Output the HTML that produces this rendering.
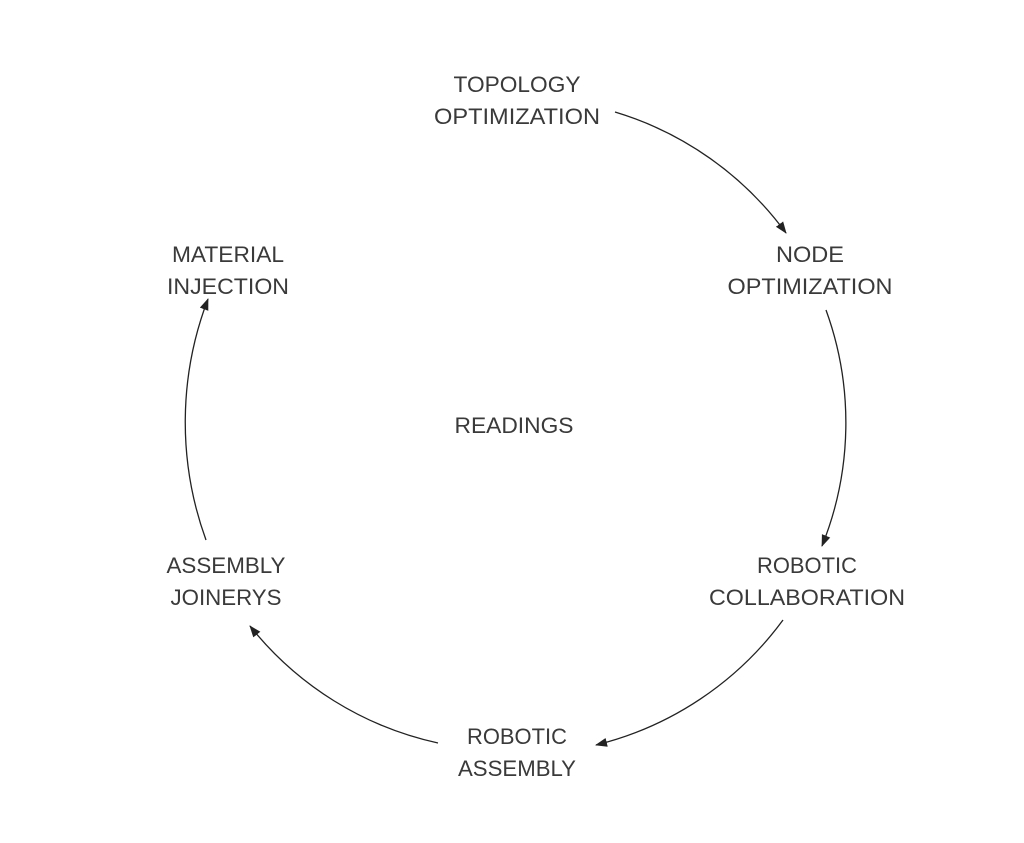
<!DOCTYPE html>
<html><head><meta charset="utf-8"><style>
html,body{margin:0;padding:0;background:#fff;}
svg{display:block;}
text{font-family:"Liberation Sans",sans-serif;font-size:22px;fill:#3a3a3a;text-anchor:middle;}
</style></head><body>
<svg width="1024" height="843" viewBox="0 0 1024 843">
<defs>
<marker id="a" markerWidth="12" markerHeight="10" refX="11" refY="5" orient="auto" markerUnits="userSpaceOnUse">
<path d="M0,0.5 L12,5 L0,9.5 Z" fill="#222"/>
</marker>
</defs>
<g fill="none" stroke="#222" stroke-width="1.3" marker-end="url(#a)">
<path d="M615,112 A330,330 0 0 1 786,233"/>
<path d="M826,310 A330,330 0 0 1 822,546"/>
<path d="M783,620 A330,330 0 0 1 596,745"/>
<path d="M438,743 A330,330 0 0 1 250,626"/>
<path d="M206,540 A345,345 0 0 1 208,299"/>
</g>
<text x="517" y="92" textLength="127" lengthAdjust="spacingAndGlyphs">TOPOLOGY</text>
<text x="517" y="124" textLength="166" lengthAdjust="spacingAndGlyphs">OPTIMIZATION</text>
<text x="810" y="262" textLength="68" lengthAdjust="spacingAndGlyphs">NODE</text>
<text x="810" y="294" textLength="165" lengthAdjust="spacingAndGlyphs">OPTIMIZATION</text>
<text x="228" y="262" textLength="112" lengthAdjust="spacingAndGlyphs">MATERIAL</text>
<text x="228" y="294" textLength="122" lengthAdjust="spacingAndGlyphs">INJECTION</text>
<text x="514" y="433" textLength="119" lengthAdjust="spacingAndGlyphs">READINGS</text>
<text x="807" y="573" textLength="100" lengthAdjust="spacingAndGlyphs">ROBOTIC</text>
<text x="807" y="605" textLength="196" lengthAdjust="spacingAndGlyphs">COLLABORATION</text>
<text x="226" y="573" textLength="119" lengthAdjust="spacingAndGlyphs">ASSEMBLY</text>
<text x="226" y="605" textLength="111" lengthAdjust="spacingAndGlyphs">JOINERYS</text>
<text x="517" y="744" textLength="100" lengthAdjust="spacingAndGlyphs">ROBOTIC</text>
<text x="517" y="776" textLength="118" lengthAdjust="spacingAndGlyphs">ASSEMBLY</text>
</svg>
</body></html>
